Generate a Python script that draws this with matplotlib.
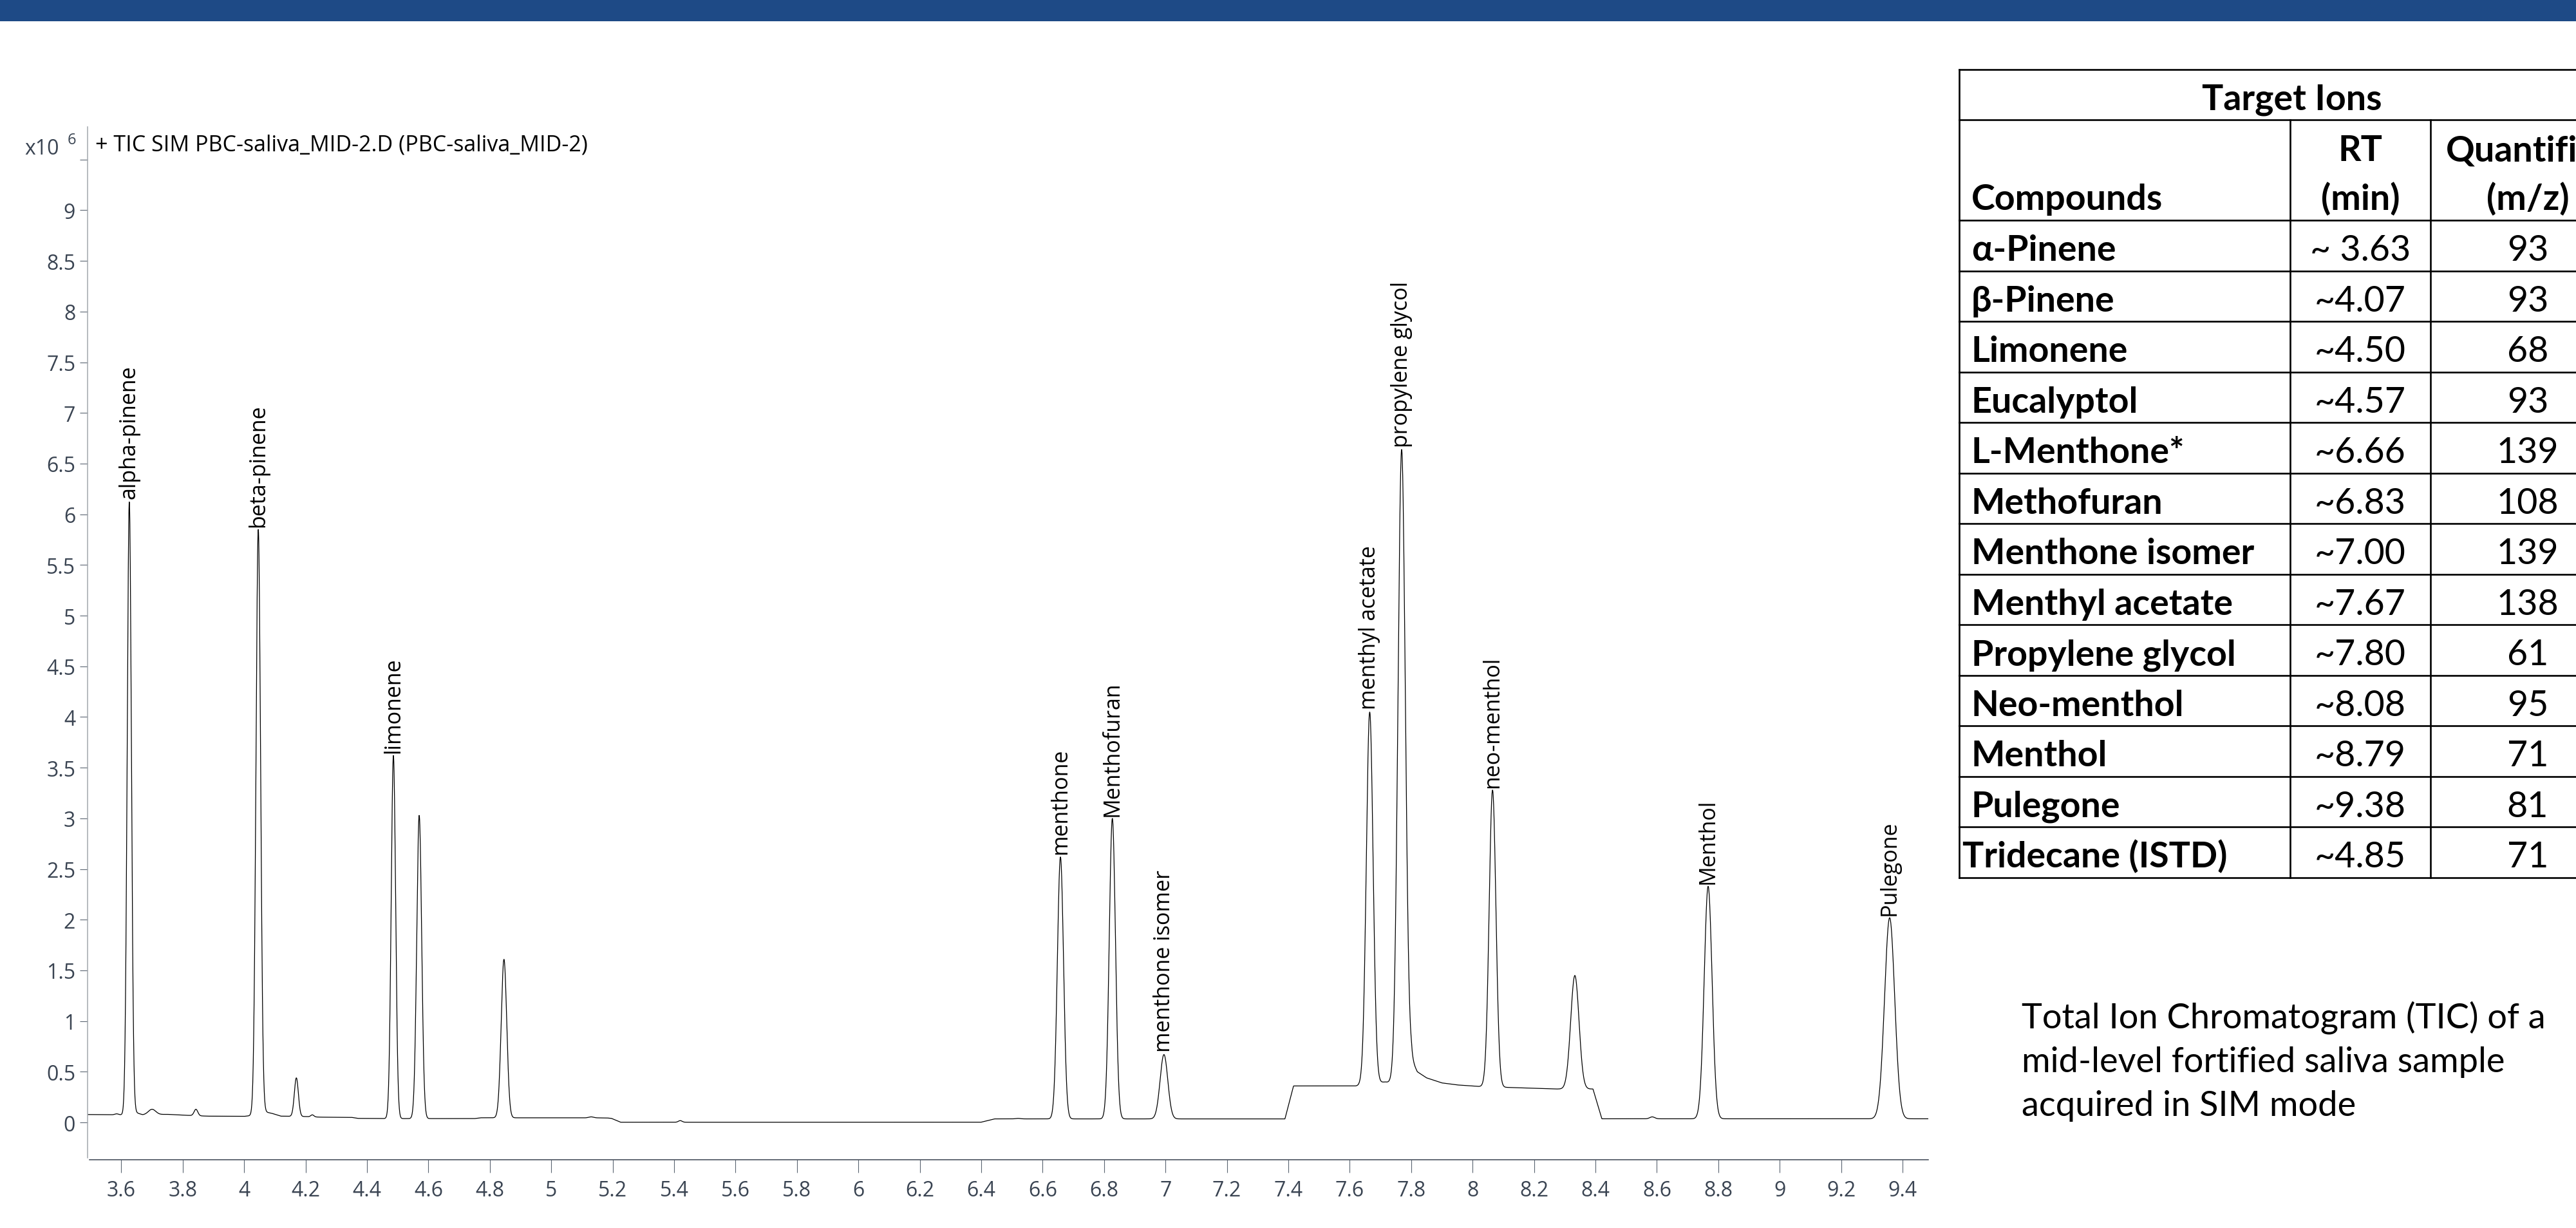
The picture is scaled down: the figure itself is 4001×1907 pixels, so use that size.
import numpy as np
import matplotlib.pyplot as plt
from matplotlib.patches import Rectangle

W, H = 4001, 1908
DPI = 100

plt.rcParams['font.family'] = ['Open Sans', 'DejaVu Sans']

# --- chromatogram: baseline breakpoints (min, x10^6 counts) ---
base_rt = [3.49, 3.60, 3.62, 3.645, 3.67, 3.75, 3.80, 3.88, 4.00, 4.03, 4.058, 4.09,
           4.12, 4.20, 4.25, 4.35, 4.37, 4.47, 4.75, 4.77, 5.18, 5.196, 5.226,
           6.399, 6.443, 7.389, 7.417, 7.62, 7.715, 7.775, 7.80, 7.82, 7.85, 7.90,
           7.95, 8.02, 8.12, 8.27, 8.392, 8.421, 9.484]
base_int = [0.078, 0.075, 0.072, 0.10, 0.075, 0.08, 0.072, 0.062, 0.060, 0.07, 0.11, 0.09,
            0.062, 0.058, 0.052, 0.05, 0.04, 0.038, 0.038, 0.046, 0.045, 0.04, 0.002,
            0.002, 0.035, 0.035, 0.36, 0.36, 0.40, 0.37, 0.62, 0.50, 0.44, 0.39,
            0.37, 0.355, 0.345, 0.33, 0.33, 0.036, 0.036]

# --- peaks: retention time, apex height, width (sigma), label ---
peak_rt = [3.585, 3.626, 3.700, 3.843, 4.046, 4.170, 4.222, 4.486, 4.570, 4.846,
           5.130, 5.420, 6.520, 6.658, 6.827, 6.995, 7.665, 7.769, 8.065, 8.333,
           8.585, 8.767, 9.358]
peak_top = [0.085, 6.13, 0.13, 0.13, 5.85, 0.44, 0.075, 3.62, 3.03, 1.61,
            0.055, 0.018, 0.04, 2.62, 3.00, 0.67, 4.05, 6.64, 3.28, 1.45,
            0.055, 2.33, 2.02]
peak_sigma = [0.006, 0.0068, 0.012, 0.006, 0.0075, 0.0065, 0.005, 0.0072, 0.008, 0.009,
              0.008, 0.006, 0.008, 0.010, 0.010, 0.0125, 0.011, 0.012, 0.011, 0.0135,
              0.008, 0.0128, 0.0165]
peak_name = ['', 'alpha-pinene', '', '', 'beta-pinene', '', '', 'limonene', '', '',
             '', '', '', 'menthone', 'Menthofuran', 'menthone isomer', 'menthyl acetate',
             'propylene glycol', 'neo-menthol', '', '', 'Menthol', 'Pulegone']

# --- target ion table ---
tbl_compounds = ['α-Pinene', 'β-Pinene', 'Limonene', 'Eucalyptol', 'L-Menthone*',
                 'Methofuran', 'Menthone isomer', 'Menthyl acetate', 'Propylene glycol',
                 'Neo-menthol', 'Menthol', 'Pulegone', 'Tridecane (ISTD)']
tbl_rt = ['~ 3.63', '~4.07', '~4.50', '~4.57', '~6.66', '~6.83', '~7.00', '~7.67',
          '~7.80', '~8.08', '~8.79', '~9.38', '~4.85']
tbl_quant = ['93', '93', '68', '93', '139', '108', '139', '138', '61', '95', '71', '81', '71']

x_ticks = np.round(np.arange(3.6, 9.41, 0.2), 1)
y_ticks = np.arange(0, 9.51, 0.5)

# build the trace
t = np.linspace(base_rt[0], base_rt[-1], 8000)
signal = np.interp(t, base_rt, base_int)
for rt, top, sig in zip(peak_rt, peak_top, peak_sigma):
    amp = top - np.interp(rt, base_rt, base_int)
    signal += amp * np.exp(-0.5 * ((t - rt) / sig) ** 2)

fig = plt.figure(figsize=(W / DPI, H / DPI), dpi=DPI)

# pixel layout of the plot area
px_left, px_right, px_top, px_bottom = 136, 2995, 198, 1802
ax = fig.add_axes([px_left / W, 1 - px_bottom / H,
                   (px_right - px_left) / W, (px_bottom - px_top) / H])
ax.plot(t, signal, color='black', lw=0.9)
ax.set_xlim(3.4901, 9.4839)
ax.set_ylim(-0.368, 9.822)

label_col = '#3a4452'
for s in ['top', 'right']:
    ax.spines[s].set_visible(False)
ax.spines['left'].set_color('#a3a8ae')
ax.spines['left'].set_linewidth(1.1)
ax.spines['left'].set_bounds(-0.35, 9.822)
ax.spines['bottom'].set_color(label_col)
ax.spines['bottom'].set_linewidth(1.1)
ax.spines['bottom'].set_bounds(3.496, 9.4839)

ax.set_xticks(x_ticks)
ax.set_xticklabels(['%g' % v for v in x_ticks])
ax.set_yticks(y_ticks)
ax.set_yticklabels(['%g' % v if v < 9.4 else '' for v in y_ticks])
ax.tick_params(axis='x', length=14.5, width=0.8, color='#5a6470', pad=8,
               labelsize=23, labelcolor=label_col)
ax.tick_params(axis='y', length=8.5, width=0.8, color='#5a6470', pad=5,
               labelsize=23, labelcolor=label_col)

for rt, top, name in zip(peak_rt, peak_top, peak_name):
    if name:
        ax.annotate(name, (rt, top), xytext=(0, 3), textcoords='offset points',
                    rotation=90, ha='center', va='bottom', fontsize=24.5, color='black')

# overlay in pixel coordinates for banner, captions and table
ov = fig.add_axes([0, 0, 1, 1])
ov.set_xlim(0, W)
ov.set_ylim(H, 0)
ov.axis('off')
ov.patch.set_alpha(0)

ov.add_patch(Rectangle((0, 0), W, 34, color='#1e4a86', lw=0))

ov.text(38, 231, 'x10', fontsize=23, color=label_col, ha='left', va='center')
ov.text(105, 218, '6', fontsize=17, color=label_col, ha='left', va='center')
ov.text(148, 226, '+ TIC SIM PBC-saliva_MID-2.D (PBC-saliva_MID-2)',
        fontsize=24.5, color='black', ha='left', va='center')

# table grid
tfont = ['Lato', 'DejaVu Sans']
x0, x1, x2, x3 = 3043, 3557, 3775, 4077
row_h = 78.5
y_head1, y_head2, y_data = 109, 187, 343
y_end = y_data + row_h * len(tbl_compounds)
lw_t = 1.9
ov.plot([x0, x3], [y_head1, y_head1], color='black', lw=lw_t)
ov.plot([x0, x3], [y_head2, y_head2], color='black', lw=lw_t)
for i in range(len(tbl_compounds) + 1):
    y = y_data + i * row_h
    ov.plot([x0, x3], [y, y], color='black', lw=lw_t)
ov.plot([x0, x0], [y_head1, y_end], color='black', lw=lw_t)
for xv in (x1, x2):
    ov.plot([xv, xv], [y_head2, y_end], color='black', lw=lw_t)

tsize = 40
ov.text((x0 + x3) / 2, 170, 'Target Ions', family=tfont, fontsize=tsize,
        fontweight='bold', ha='center', va='baseline')
ov.text(3062, 326, 'Compounds', family=tfont, fontsize=tsize, fontweight='bold',
        ha='left', va='baseline')
ov.text((x1 + x2) / 2, 250, 'RT', family=tfont, fontsize=tsize, fontweight='bold',
        ha='center', va='baseline')
ov.text((x1 + x2) / 2, 326, '(min)', family=tfont, fontsize=tsize, fontweight='bold',
        ha='center', va='baseline')
ov.text((x2 + x3) / 2, 250, 'Quantifier', family=tfont, fontsize=tsize, fontweight='bold',
        ha='center', va='baseline')
ov.text((x2 + x3) / 2, 326, '(m/z)', family=tfont, fontsize=tsize, fontweight='bold',
        ha='center', va='baseline')

for i, (name, rt, q) in enumerate(zip(tbl_compounds, tbl_rt, tbl_quant)):
    yb = y_data + i * row_h + 0.79 * row_h
    xn = 3048 if name.startswith('Tridecane') else 3062
    ov.text(xn, yb, name, family=tfont, fontsize=tsize, fontweight='bold',
            ha='left', va='baseline')
    ov.text((x1 + x2) / 2, yb, rt, family=tfont, fontsize=tsize, ha='center', va='baseline')
    ov.text((x2 + x3) / 2, yb, q, family=tfont, fontsize=tsize, ha='center', va='baseline')

caption = ['Total Ion Chromatogram (TIC) of a',
           'mid-level fortified saliva sample',
           'acquired in SIM mode']
for i, line in enumerate(caption):
    ov.text(3140, 1597 + i * 68, line, family=tfont, fontsize=39,
            ha='left', va='baseline')

fig.savefig('out.png', dpi=DPI, facecolor='white')
